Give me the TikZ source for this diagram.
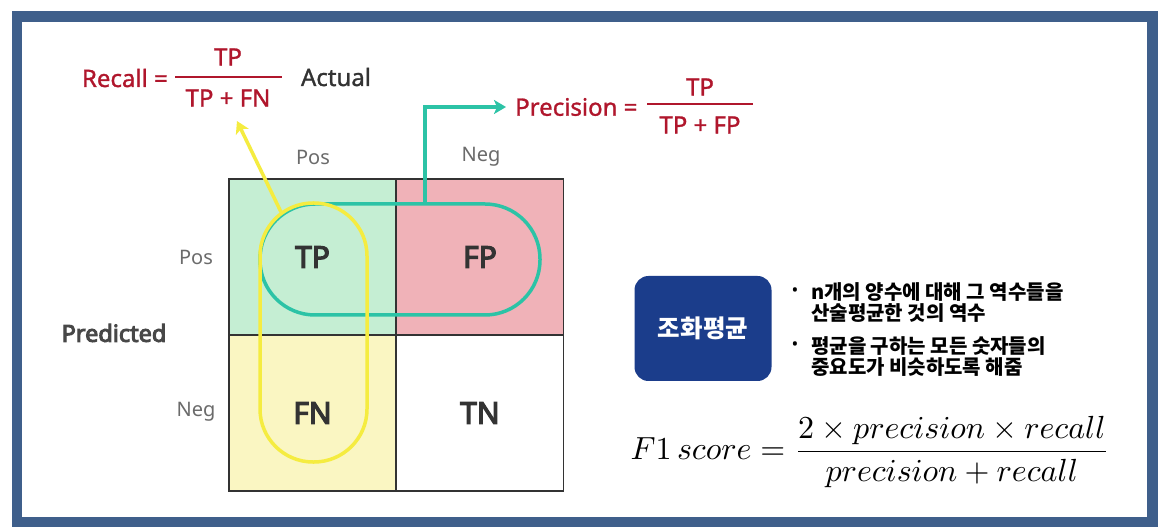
\documentclass[tikz,border=0pt]{standalone}
\usepackage{amsmath}
\usepackage[no-math]{fontspec}
\setmainfont{Noto Sans}
\newfontfamily\boldlbl[FakeBold=4]{Noto Sans}
\newfontfamily\medlbl[FakeBold=1.2]{Noto Sans}
\newfontfamily\kofont{Noto Sans CJK KR}
\usetikzlibrary{arrows.meta, positioning}

\definecolor{framecol}{HTML}{3F5F8B}
\definecolor{recred}{HTML}{B0162C}
\definecolor{tealline}{HTML}{2CC3A6}
\definecolor{yelline}{HTML}{F5EC40}
\definecolor{tpfill}{HTML}{C5EED3}
\definecolor{fpfill}{HTML}{F0B2B8}
\definecolor{fnfill}{HTML}{FAF6C2}
\definecolor{navybox}{HTML}{1B3D8B}
\definecolor{lblgray}{HTML}{6B6B6B}
\definecolor{txtdark}{HTML}{333333}

\begin{document}
\begin{tikzpicture}
  [
    x                   = 1pt,
    y                   = -1pt,
    cell/.style         = {draw=txtdark, line width=1.6pt, minimum width=167pt,
                           minimum height=156pt, inner sep=0pt, text=txtdark,
                           font=\boldlbl\fontsize{30}{30}\selectfont},
    axislbl/.style      = {inner sep=0pt, text=lblgray, font=\fontsize{20}{20}\selectfont},
    redtxt/.style       = {inner sep=0pt, text=recred, font=\medlbl\fontsize{24}{24}\selectfont},
    kotxt/.style        = {inner sep=0pt, align=left, text=black,
                           font=\kofont\bfseries\fontsize{20}{21}\selectfont},
    tealarr/.style      = {draw=tealline, line width=3.5pt, -{Stealth[length=12pt, width=14pt, inset=3pt]}},
    yelarr/.style       = {draw=yelline, line width=3.5pt, -{Stealth[length=12pt, width=14pt, inset=3pt]}},
    fracbar/.style      = {draw=recred, line width=1.4pt}
  ]

  \fill[white] (0,0) rectangle (1160,529);
  \useasboundingbox (0,0) rectangle (1160,529);
  \draw[framecol, line width=10.5pt] (17,16.5) rectangle (1152.5,522);

  % confusion matrix
  \node[cell, fill=tpfill] (tp) at (312.5,257) {TP};
  \node[cell, fill=fpfill] (fp) at (480,257)   {FP};
  \node[cell, fill=fnfill] (fn) at (312.5,413) {FN};
  \node[cell, fill=white]  (tn) at (480,413)   {TN};

  \node[axislbl] (colpos) at (313,157) {Pos};
  \node[axislbl] (colneg) at (481,157) {Neg};
  \node[axislbl] (rowpos) at (196,257) {Pos};
  \node[axislbl] (rowneg) at (196,412) {Neg};
  \node[inner sep=0pt, text=txtdark!90, font=\boldlbl\fontsize{23.5}{23.5}\selectfont]
    (pred) at (114,333) {Predicted};
  \node[inner sep=0pt, text=txtdark, font=\medlbl\fontsize{24}{24}\selectfont]
    (actual) at (336,77) {Actual};

  % recall / precision
  \node[redtxt, anchor=east] (recall) at (168,78) {Recall =};
  \node[redtxt] (recnum) at (228,57) {TP};
  \node[redtxt] (recden) at (228,98) {TP + FN};
  \draw[fracbar] (175,77) -- (282,77);

  \node[redtxt, anchor=west] (prec) at (515,107) {Precision =};
  \node[redtxt] (precnum) at (700,87)  {TP};
  \node[redtxt] (precden) at (700,125) {TP + FP};
  \draw[fracbar] (647,104) -- (753,104);

  \draw[tealline, line width=3.5pt, rounded corners=55pt] (260,204) rectangle (540,315);
  \draw[yelline, line width=3.5pt, rounded corners=53pt] (260,203) rectangle (367,462);

  \coordinate (tealtop) at (425,204);
  \coordinate (yelstart) at (281,212);
  \coordinate (rectip) at (237,121);
  \draw[tealarr] (tealtop) |- ([xshift=-9pt]prec.west);
  \draw[yelarr] (yelstart) -- (rectip);

  % harmonic mean
  \node[fill=navybox, rounded corners=14pt, minimum width=137pt, minimum height=105pt,
        text=white, font=\kofont\bfseries\fontsize{24.5}{24.5}\selectfont]
    (harm) at (703,328.5) {조화평균};
  \node[inner sep=0pt, font=\fontsize{18}{18}\selectfont] (dot1) at (795,292) {•};
  \node[inner sep=0pt, font=\fontsize{18}{18}\selectfont] (dot2) at (795,346) {•};
  \node[kotxt, anchor=west] (line1) at (811,302.5) {n개의 양수에 대해 그 역수들을\\산술평균한 것의 역수};
  \node[kotxt, anchor=west] (line2) at (811,356.5) {평균을 구하는 모든 숫자들의\\중요도가 비슷하도록 해줌};

  \node[inner sep=0pt, anchor=west, scale=3.2, transform shape] (f1) at (630,452)
    {$F1\,score = \dfrac{2\times precision\times recall}{precision + recall}$};
\end{tikzpicture}
\end{document}
